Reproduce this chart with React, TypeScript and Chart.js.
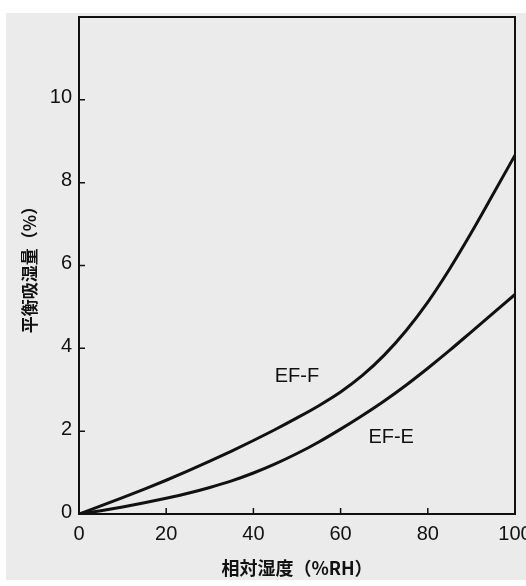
import React, { useEffect, useRef } from "react";
import { Chart, registerables } from "chart.js";

Chart.register(...registerables);

// Relative humidity (%RH) and equilibrium moisture absorption (%)
const humidity = [0, 5, 10, 15, 20, 25, 30, 35, 40, 45, 50, 55, 60, 65, 70, 75, 80, 85, 90, 95, 100];
const moistureF = [0, 0.195, 0.395, 0.6, 0.815, 1.04, 1.275, 1.52, 1.775, 2.04, 2.32, 2.615, 2.945, 3.345, 3.835, 4.425, 5.115, 5.915, 6.795, 7.725, 8.665];
const moistureE = [0, 0.08, 0.17, 0.27, 0.38, 0.5, 0.64, 0.8, 0.99, 1.21, 1.46, 1.74, 2.05, 2.38, 2.73, 3.11, 3.52, 3.95, 4.4, 4.85, 5.3];

const seriesNames = ["EF-F", "EF-E"];
// label anchor points in data units
const labelHumidity = [50, 71.6];
const labelMoisture = [3.31, 1.84];

const xTicks = [0, 20, 40, 60, 80, 100];
const yTicks = [0, 2, 4, 6, 8, 10];

const xTitle = "相対湿度（%RH）";
const yTitle = "平衡吸湿量（%）";

export default function App() {
  const ref = useRef<HTMLCanvasElement>(null);

  useEffect(() => {
    document.body.style.margin = "0";
    const canvas = ref.current;
    if (!canvas) return;
    const font = "'Liberation Sans', Arial, sans-serif";
    const cjk = "'Noto Sans CJK JP', 'Noto Sans CJK SC', sans-serif";
    const ink = "#111111";

    const decor = {
      id: "decor",
      beforeDraw(chart: any) {
        const c = chart.ctx;
        c.save();
        c.fillStyle = "#ffffff";
        c.fillRect(0, 0, chart.width, chart.height);
        c.fillStyle = "#ebebeb";
        c.fillRect(6, 13, chart.width - 6, 567);
        c.restore();
      },
      afterDatasetsDraw(chart: any) {
        const c = chart.ctx;
        const a = chart.chartArea;
        const xs = chart.scales.x;
        const ys = chart.scales.y;
        c.save();
        c.strokeStyle = ink;
        c.lineWidth = 2;
        c.strokeRect(a.left, a.top, a.right - a.left, a.bottom - a.top);
        c.lineWidth = 1.5;
        c.beginPath();
        xTicks.forEach((v) => {
          if (v > xs.min && v < xs.max) {
            const p = xs.getPixelForValue(v);
            c.moveTo(p, a.bottom);
            c.lineTo(p, a.bottom - 6);
          }
        });
        yTicks.forEach((v) => {
          if (v > ys.min && v < ys.max) {
            const p = ys.getPixelForValue(v);
            c.moveTo(a.left, p);
            c.lineTo(a.left + 6, p);
          }
        });
        c.stroke();
        c.fillStyle = ink;
        c.font = `20px ${font}`;
        c.textAlign = "center";
        c.textBaseline = "middle";
        seriesNames.forEach((n, i) => {
          c.fillText(n, xs.getPixelForValue(labelHumidity[i]), ys.getPixelForValue(labelMoisture[i]));
        });
        c.restore();
      },
    };

    const chart = new Chart(canvas, {
      type: "line",
      data: {
        datasets: [
          {
            label: seriesNames[0],
            data: humidity.map((h, i) => ({ x: h, y: moistureF[i] })),
            borderColor: ink,
            borderWidth: 3,
            pointRadius: 0,
            cubicInterpolationMode: "monotone",
            fill: false,
          },
          {
            label: seriesNames[1],
            data: humidity.map((h, i) => ({ x: h, y: moistureE[i] })),
            borderColor: ink,
            borderWidth: 3,
            pointRadius: 0,
            cubicInterpolationMode: "monotone",
            fill: false,
          },
        ],
      },
      options: {
        animation: false,
        responsive: false,
        layout: { padding: { top: 17, right: 11, left: 0, bottom: 0 } },
        plugins: { legend: { display: false }, tooltip: { enabled: false } },
        scales: {
          x: {
            type: "linear",
            min: 0,
            max: 100,
            grid: { display: false, drawTicks: false },
            border: { display: false },
            ticks: {
              padding: 8,
              maxRotation: 0,
              color: ink,
              font: { family: font, size: 20 },
            },
            afterBuildTicks(s: any) {
              s.ticks = xTicks.map((v) => ({ value: v }));
            },
            title: {
              display: true,
              text: xTitle,
              color: ink,
              font: { family: cjk, size: 18, weight: "bold" },
              padding: { top: 0, bottom: 7 },
            },
            afterFit(s: any) {
              s.height = 72;
              s.paddingLeft = 0;
              s.paddingRight = 0;
            },
          },
          y: {
            type: "linear",
            min: 0,
            max: 12,
            grid: { display: false, drawTicks: false },
            border: { display: false },
            ticks: {
              padding: 7,
              labelOffset: -2,
              color: ink,
              font: { family: font, size: 20 },
            },
            afterBuildTicks(s: any) {
              s.ticks = yTicks.map((v) => ({ value: v }));
            },
            title: {
              display: true,
              text: yTitle,
              color: ink,
              font: { family: cjk, size: 17, weight: "bold" },
              padding: { top: 19, bottom: 0 },
            },
            afterFit(s: any) {
              s.width = 79;
              s.paddingTop = 0;
              s.paddingBottom = 0;
            },
          },
        },
      },
      plugins: [decor],
    });

    return () => chart.destroy();
  }, []);

  return <canvas ref={ref} width={526} height={586} style={{ display: "block" }} />;
}
